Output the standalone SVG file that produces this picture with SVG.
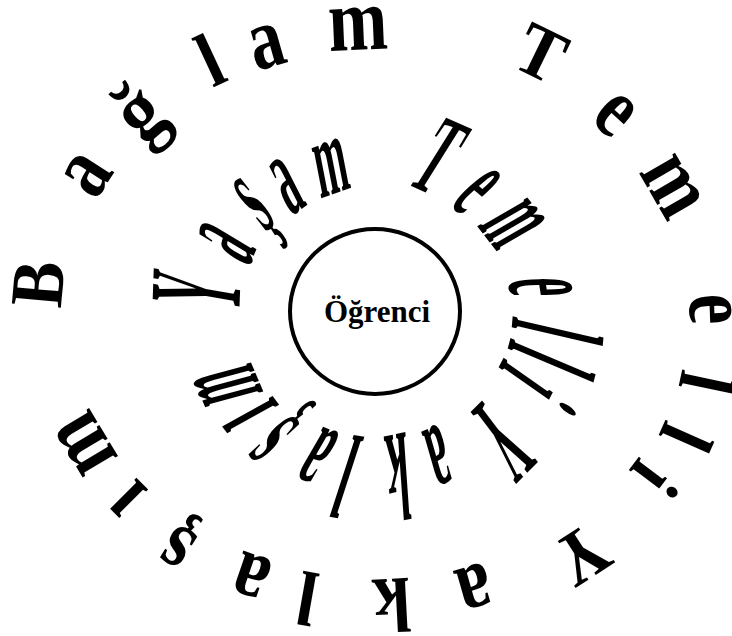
<svg xmlns="http://www.w3.org/2000/svg" width="732" height="636" viewBox="0 0 732 636">
<style>
.o{font-family:"Liberation Serif","Times New Roman",serif;font-weight:bold;font-size:75px;text-anchor:middle;fill:#000}
.n{font-family:"Liberation Serif","Times New Roman",serif;font-weight:bold;font-size:100px;text-anchor:middle;fill:#000}
.c{font-family:"Liberation Serif","Times New Roman",serif;font-weight:bold;font-size:31px;text-anchor:middle;fill:#000}
</style>
<rect width="732" height="636" fill="#fff"/>
<g id="outer-ring">
<text class="o" y="24.8" transform="translate(38,284) rotate(-85) scale(0.92,1)">B</text>
<text class="o" y="17.2" transform="translate(88,175) rotate(-57) scale(0.95,1.2)">a</text>
<text class="o" y="18" transform="translate(143,117) rotate(-41) scale(1.0,1.15)">ğ</text>
<text class="o" y="25.4" transform="translate(210,60) rotate(-25) scale(0.92,1.03)">l</text>
<text class="o" y="17.2" transform="translate(267,47) rotate(-16) scale(0.92,1.18)">a</text>
<text class="o" y="17.2" transform="translate(358,29) rotate(-2.5) scale(0.95,1.2)">m</text>
<text class="o" y="24.8" transform="translate(541,53) rotate(26) scale(0.92,1)">T</text>
<text class="o" y="17.2" transform="translate(614,115) rotate(42) scale(0.92,1.18)">e</text>
<text class="o" y="17.2" transform="translate(671,187) rotate(60) scale(0.95,1.2)">m</text>
<text class="o" y="17.2" transform="translate(710,309) rotate(88) scale(0.92,1.18)">e</text>
<text class="o" y="25.4" transform="translate(706,383) rotate(102) scale(0.92,1.03)">l</text>
<text class="o" y="25.4" transform="translate(686,438) rotate(114) scale(0.92,1.03)">l</text>
<text class="o" y="25.4" transform="translate(655,479) rotate(127) scale(0.92,1.03)">i</text>
<text class="o" y="24.8" transform="translate(582,555) rotate(147) scale(0.92,1)">Y</text>
<text class="o" y="17.2" transform="translate(474,586) rotate(164) scale(0.92,1.18)">a</text>
<text class="o" y="25.4" transform="translate(392,605) rotate(177) scale(0.92,1.03)">k</text>
<text class="o" y="25.4" transform="translate(307,598) rotate(190) scale(0.92,1.03)">l</text>
<text class="o" y="17.2" transform="translate(252,575) rotate(199) scale(0.92,1.18)">a</text>
<text class="o" y="8.9" transform="translate(183,538) rotate(212) scale(0.92,1.12)">ş</text>
<text class="o" y="17.2" transform="translate(128,498) rotate(225) scale(0.92,1.18)">ı</text>
<text class="o" y="17.2" transform="translate(86,443) rotate(239) scale(0.95,1.2)">m</text>
</g>
<g id="inner-ring">
<text class="n" y="33.1" transform="translate(196,291) rotate(-88) skewX(-8) scale(0.45,1.33)">Y</text>
<text class="n" y="23" transform="translate(227,243) rotate(-67) skewX(-8) scale(0.42,1.29)">a</text>
<text class="n" y="12.2" transform="translate(262,215) rotate(-46) skewX(-8) scale(0.42,1.23)">ş</text>
<text class="n" y="23" transform="translate(287,186) rotate(-35) skewX(-8) scale(0.42,1.18)">a</text>
<text class="n" y="23" transform="translate(331,168) rotate(-19) skewX(-8) scale(0.4,1.1)">m</text>
<text class="n" y="33.1" transform="translate(439,156) rotate(24) skewX(-8) scale(0.45,1.17)">T</text>
<text class="n" y="23" transform="translate(476,191) rotate(40) skewX(-8) scale(0.42,1.2)">e</text>
<text class="n" y="23" transform="translate(512,224) rotate(52) skewX(-8) scale(0.4,1.25)">m</text>
<text class="n" y="23" transform="translate(540,287) rotate(81) skewX(-8) scale(0.42,1.32)">e</text>
<text class="n" y="34.2" transform="translate(557,332) rotate(95) skewX(-8) scale(0.45,1.33)">l</text>
<text class="n" y="34.2" transform="translate(551,361) rotate(105) skewX(-8) scale(0.45,1.32)">l</text>
<text class="n" y="34.2" transform="translate(538,388) rotate(117) skewX(-8) scale(0.45,1.3)">i</text>
<text class="n" y="33.1" transform="translate(502,440) rotate(135) skewX(-8) scale(0.45,1.27)">Y</text>
<text class="n" y="23" transform="translate(438,455) rotate(156) skewX(-8) scale(0.42,1.22)">a</text>
<text class="n" y="34.2" transform="translate(398,477) rotate(168) skewX(-8) scale(0.42,1.24)">k</text>
<text class="n" y="34.2" transform="translate(346,476) rotate(190) skewX(-8) scale(0.45,1.22)">l</text>
<text class="n" y="23" transform="translate(318,455) rotate(202) skewX(-8) scale(0.42,1.22)">a</text>
<text class="n" y="12.2" transform="translate(284,429) rotate(219) skewX(-8) scale(0.42,1.25)">ş</text>
<text class="n" y="23" transform="translate(250,415) rotate(233) skewX(-8) scale(0.45,1.28)">ı</text>
<text class="n" y="23" transform="translate(228,385) rotate(247) skewX(-8) scale(0.4,1.3)">m</text>
</g>
<g id="ogrenci">
<ellipse cx="375" cy="311.5" rx="85" ry="82.5" fill="none" stroke="#000" stroke-width="4"/>
<text class="c" x="377" y="322">Öğrenci</text>
</g>
</svg>
